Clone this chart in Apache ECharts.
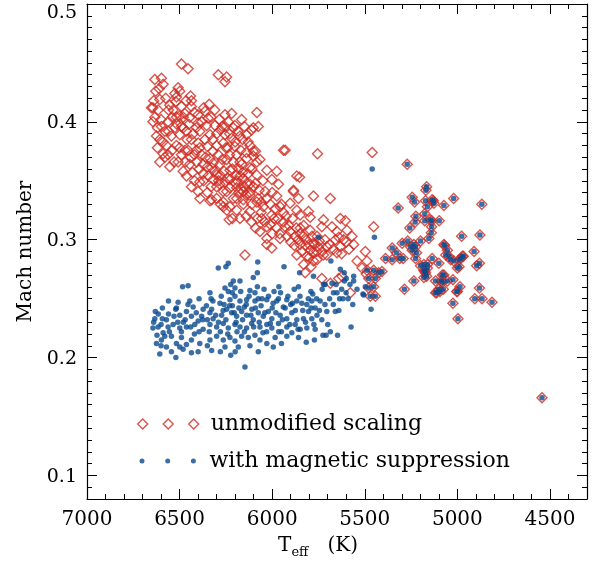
<!DOCTYPE html>
<html>
<head>
<meta charset="utf-8">
<script src="https://cdn.jsdelivr.net/npm/echarts@6/dist/echarts.min.js"></script>
<style>
  html, body { margin: 0; padding: 0; background: #fff; }
  #chart { width: 600px; height: 563px; }
</style>
</head>
<body>
<div id="chart"></div>
<script>
// Axis tick labels
const xTickLabels = [7000, 6500, 6000, 5500, 5000, 4500];
const yTickLabels = [0.1, 0.2, 0.3, 0.4, 0.5];

// Hot stars, Mach number with the unmodified scaling: [Teff (K), Mach]
const unmodifiedHot = [
  [6490,0.449],[6454,0.445],[6291,0.440],[6246,0.438],[6255,0.434],[6634,0.436],[6598,0.437],[6589,0.432],
  [6629,0.426],[6508,0.429],[6526,0.424],[6499,0.426],[6517,0.421],[6521,0.417],[6441,0.422],[6436,0.418],
  [6607,0.419],[6644,0.412],[6616,0.410],[6634,0.404],[6553,0.414],[6490,0.413],[6436,0.413],[6472,0.407],
  [6340,0.415],[6363,0.409],[6346,0.403],[6400,0.406],[6445,0.404],[6517,0.404],[6562,0.400],[6083,0.408],
  [6102,0.395],[6255,0.406],[6219,0.407],[6165,0.402],[6237,0.400],[6255,0.396],[6201,0.397],[6309,0.397],
  [6354,0.397],[6400,0.399],[6598,0.396],[6580,0.392],[6625,0.388],[6607,0.385],[6526,0.395],[6490,0.396],
  [6463,0.392],[6499,0.389],[6544,0.388],[6427,0.390],[6391,0.392],[6336,0.389],[6300,0.390],[6363,0.385],
  [6436,0.385],[6255,0.389],[6219,0.386],[6174,0.388],[6138,0.389],[6264,0.382],[6201,0.379],[6120,0.380],
  [6102,0.375],[6571,0.380],[6517,0.380],[6589,0.373],[6607,0.366],[6562,0.372],[6553,0.362],[6508,0.366],
  [6490,0.372],[6454,0.376],[6445,0.364],[6481,0.358],[6463,0.354],[6391,0.378],[6381,0.372],[6408,0.366],
  [6336,0.369],[6327,0.361],[6373,0.364],[6346,0.354],[6291,0.372],[6282,0.364],[6246,0.368],[6228,0.359],
  [6282,0.355],[6255,0.349],[6192,0.372],[6165,0.364],[6138,0.369],[6120,0.361],[6083,0.366],[6192,0.355],
  [6156,0.352],[6120,0.347],[6083,0.355],[6436,0.345],[6400,0.341],[6391,0.349],[6336,0.333],[6300,0.345],
  [6264,0.341],[6228,0.344],[6264,0.332],[6228,0.328],[6192,0.335],[6156,0.330],[6120,0.338],[6083,0.332],
  [6156,0.341],[6652,0.412],[6644,0.400],[6580,0.370],[6075,0.396],[5939,0.376],[5867,0.354],
  [6111,0.393],[5755,0.373],[5460,0.374],[5930,0.376],[6102,0.371],[6174,0.366],[6066,0.368],[6029,0.359],
  [5975,0.358],[6002,0.351],[5966,0.347],[5852,0.353],[6319,0.365],[6373,0.356],[6319,0.351],[6282,0.347],
  [6228,0.351],[6174,0.354],[6138,0.348],[6192,0.344],[6246,0.341],[6327,0.334],[6264,0.328],[6210,0.335],
  [6156,0.334],[6120,0.340],[6075,0.335],[6038,0.341],[5975,0.337],[5885,0.341],[5858,0.335],[5777,0.337],
  [5686,0.335],[6232,0.317],[6174,0.318],[6111,0.315],[6056,0.318],[6002,0.321],[5939,0.323],[5867,0.325],
  [5849,0.321],[6192,0.325],[6120,0.324],[6048,0.328],[5957,0.328],[5903,0.331],[5804,0.324],[5795,0.319],
  [5723,0.317],[5632,0.318],[5605,0.316],[6029,0.311],[6066,0.307],[5975,0.310],[5930,0.311],[5903,0.307],
  [5849,0.310],[5876,0.303],[5831,0.303],[6029,0.301],[5957,0.301],[6002,0.293],[6029,0.296],[5795,0.308],
  [5758,0.303],[5732,0.311],[5677,0.311],[5650,0.307],[5596,0.308],[5569,0.303],[5614,0.300],[5659,0.300],
  [5705,0.294],[5750,0.294],[5795,0.291],[5849,0.296],[5867,0.287],[5813,0.286],[5758,0.283],[5632,0.294],
  [5560,0.296],[5650,0.289],[5705,0.287],[6147,0.287],[5452,0.311],[5497,0.290],[5542,0.282],[5488,0.282],
  [5578,0.255],[5822,0.272],[5732,0.267],[5686,0.263],[5623,0.269],[5885,0.342],[5777,0.297],[5723,0.287],
  [5777,0.282],[5515,0.276],[5492,0.271],[5641,0.267],
  [6230,0.372],[6210,0.366],[6180,0.360],[6160,0.357],[6240,0.352],[6200,0.348],[6170,0.343],[6140,0.338],
  [6100,0.345],[6110,0.330],[6060,0.323],[6080,0.318],[6040,0.315],[6010,0.313],[5990,0.318],[5960,0.305],
  [5920,0.303],[5900,0.298],[5880,0.295],[5860,0.300],[5840,0.290],[5820,0.295],[5800,0.285],[5780,0.289],
  [5830,0.279],[5790,0.277],[5760,0.290],[6300,0.380],[6280,0.393],[6320,0.385],[6350,0.379],[6400,0.382],
  [6420,0.372],[6460,0.385],[6480,0.395],[6500,0.405],[6540,0.404],[6560,0.410],[6600,0.402],[6620,0.395],
  [6470,0.366],[6430,0.357],[6370,0.350],[6330,0.345],[6300,0.355],[6260,0.358],[6240,0.378],[6200,0.383],
  [6170,0.376],[6150,0.396],[6130,0.383],[6090,0.375],
  [6640,0.418],[6610,0.428],[6575,0.420],[6560,0.392],[6535,0.410],[6515,0.398],[6480,0.404],[6465,0.418],
  [6450,0.398],[6420,0.408],[6410,0.395],[6380,0.400],[6370,0.412],[6330,0.404],[6310,0.410],[6285,0.402],
  [6270,0.396],[6620,0.378],[6590,0.383],[6540,0.376],[6530,0.366],[6500,0.378],[6470,0.376],[6440,0.370],
  [6410,0.376],[6395,0.360],[6360,0.370],[6350,0.362],[6320,0.375],[6310,0.358],[6290,0.350],[6270,0.368],
  [6250,0.378],[6230,0.390],[6210,0.395],[6185,0.392],[6160,0.385],[6140,0.374],[6215,0.360],[6190,0.350],
  [6180,0.340],[6150,0.345],[6130,0.356],[6110,0.360],[6090,0.348],[6070,0.342],[6060,0.332],[6050,0.350],
  [6030,0.335],[6010,0.330],[6000,0.340],[5985,0.326],[5970,0.318],[5950,0.330],[5940,0.315],[5925,0.320],
  [5910,0.312],[5890,0.318],[5870,0.310],[5850,0.305],[5830,0.312],[5815,0.300],[5800,0.296],[5785,0.303],
  [5770,0.296],[5745,0.299],[5730,0.290],[5715,0.300],[5690,0.296],[5670,0.292],[5640,0.302],[5625,0.288],
  [5600,0.298],[5585,0.292],[6245,0.325],[6280,0.330],[6300,0.335],[6350,0.340],[6420,0.350],[6390,0.335],
  [6215,0.318],[6140,0.320],[6090,0.310],[6000,0.305]
];

// Hot stars, Mach number with magnetic suppression: [Teff (K), Mach]
const suppressedHot = [
  [5750,0.302],[5683,0.282],[5936,0.277],[6078,0.281],[6237,0.280],[6250,0.277],[6291,0.276],[6080,0.272],
  [6102,0.268],[6454,0.261],[6484,0.260],[6210,0.265],[6224,0.262],[6174,0.265],[5852,0.272],[5632,0.275],
  [5611,0.272],[5560,0.269],
  [6336,0.255],[6255,0.259],[6237,0.256],[6201,0.259],[6120,0.257],[6093,0.255],[6044,0.258],[5990,0.256],
  [5964,0.260],[5881,0.258],[5858,0.260],[5791,0.256],[5781,0.254],[5714,0.262],[5669,0.255],[5636,0.250],
  [5618,0.250],[5542,0.258],[5510,0.254],[5574,0.226],
  [6508,0.247],[6445,0.248],[6517,0.242],[6427,0.243],[6373,0.241],[6327,0.241],[6282,0.246],[6228,0.249],
  [6201,0.252],[6174,0.248],[6138,0.249],[6093,0.248],[6075,0.250],[6029,0.249],[5966,0.250],[5921,0.249],
  [5975,0.248],[5867,0.248],[5840,0.246],[5813,0.245],[5786,0.248],[5741,0.248],[5705,0.239],[5659,0.239],
  [5768,0.242],
  [6631,0.239],[6593,0.242],[6593,0.233],[6634,0.233],[6571,0.232],[6521,0.241],[6499,0.236],[6463,0.239],
  [6436,0.235],[6381,0.235],[6400,0.231],[6336,0.238],[6319,0.233],[6273,0.236],[6246,0.241],[6219,0.238],
  [6192,0.235],[6165,0.239],[6138,0.236],[6102,0.232],[6075,0.238],[6048,0.235],[6021,0.239],[6002,0.233],
  [5957,0.236],[5921,0.233],[5894,0.238],[5867,0.232],[5831,0.233],[5804,0.239],[5786,0.233],[5758,0.236],
  [5732,0.232],
  [6644,0.225],[6616,0.226],[6562,0.226],[6535,0.228],[6499,0.225],[6463,0.226],[6418,0.228],[6373,0.224],
  [6336,0.228],[6300,0.226],[6264,0.229],[6237,0.225],[6201,0.228],[6174,0.226],[6138,0.225],[6111,0.229],
  [6066,0.226],[6029,0.228],[6002,0.225],[5966,0.229],[5921,0.226],[5876,0.228],[5849,0.224],[5813,0.225],
  [5768,0.224],[5726,0.219],[5709,0.219],[5686,0.222],[5647,0.219],
  [6622,0.219],[6589,0.221],[6598,0.215],[6625,0.212],[6544,0.218],[6517,0.212],[6490,0.217],[6436,0.215],
  [6463,0.211],[6391,0.212],[6336,0.215],[6300,0.218],[6264,0.215],[6228,0.217],[6201,0.214],[6165,0.218],
  [6129,0.217],[6093,0.219],[6066,0.215],[6029,0.212],[5994,0.209],[5984,0.217],[5921,0.218],[5894,0.221],
  [5858,0.217],[5816,0.213],[5772,0.215],
  [6607,0.203],[6571,0.209],[6544,0.205],[6499,0.209],[6436,0.204],[6400,0.205],[6327,0.206],[6255,0.209],
  [6224,0.202],[6183,0.209],[6147,0.192],[6481,0.207],
  [5460,0.360],[5448,0.302],[5777,0.269],[5723,0.262],[5677,0.263],[5650,0.255],[5601,0.255],[5497,0.260],
  [5506,0.253],[5600,0.267],[5560,0.265],[5466,0.241],
  [6260,0.245],[6215,0.244],[6150,0.243],[6110,0.241],[6060,0.244],[6000,0.242],[5940,0.243],[5900,0.245],
  [6350,0.232],[6280,0.222],[6190,0.222],[6050,0.221],[5950,0.222],[6420,0.220],[6560,0.237],[6480,0.230],
  [6640,0.230],[6615,0.237],[6600,0.228],[6580,0.218],[6555,0.222],[6530,0.235],[6510,0.230],[6490,0.222],
  [6470,0.232],[6455,0.245],[6440,0.226],[6410,0.238],[6395,0.222],[6375,0.232],[6355,0.244],[6340,0.222],
  [6320,0.248],[6305,0.236],[6290,0.230],[6275,0.252],[6265,0.240],[6250,0.232],[6240,0.220],[6230,0.244],
  [6215,0.255],[6205,0.238],[6195,0.230],[6180,0.242],[6170,0.256],[6160,0.232],[6150,0.222],[6140,0.245],
  [6125,0.252],[6115,0.236],[6100,0.226],[6090,0.242],[6080,0.260],[6070,0.230],[6055,0.250],[6040,0.238],
  [6030,0.222],[6020,0.252],[6010,0.229],[5995,0.246],[5980,0.238],[5965,0.222],[5955,0.255],[5945,0.232],
  [5930,0.242],[5915,0.252],[5905,0.228],[5890,0.246],[5875,0.240],[5860,0.224],[5850,0.252],[5835,0.240],
  [5820,0.230],[5805,0.250],[5790,0.242],[5775,0.228],[5760,0.250],[5745,0.240],[5730,0.258],[5715,0.245],
  [5700,0.228],[5690,0.250],[5670,0.245],[5655,0.262],[5640,0.240],[5625,0.258],[5610,0.265],[5590,0.250],
  [5580,0.262],[5565,0.245],[6330,0.250],[6395,0.250],[6560,0.248],[6600,0.210],[6520,0.200],[6350,0.210],
  [6280,0.205],[6120,0.210],[6200,0.205],[5950,0.212],[6075,0.205]
];

// Cool stars: both scalings give the same Mach number: [Teff (K), Mach]
const coolStars = [
  [5271,0.364],[5166,0.345],[5170,0.342],[5244,0.336],[5231,0.332],[5172,0.333],[5130,0.333],[5162,0.328],
  [5136,0.334],[5127,0.331],[5073,0.329],[5020,0.335],[4868,0.330],[5320,0.327],
  [5224,0.320],[5176,0.322],[5176,0.316],[5139,0.316],[5098,0.316],[5145,0.317],[5228,0.315],[5257,0.310],
  [5139,0.311],[5141,0.306],[5154,0.301],[4977,0.303],[4878,0.304],
  [5268,0.299],[5199,0.299],[5226,0.294],[5069,0.295],[5352,0.293],[5298,0.297],[5235,0.296],[5253,0.294],
  [5244,0.291],[5329,0.289],[5311,0.284],[5293,0.284],[5226,0.284],[5220,0.289],[5388,0.284],[5352,0.283],
  [5073,0.296],[5054,0.291],[5063,0.287],[5046,0.286],[5019,0.282],[4991,0.283],[4973,0.286],[5036,0.283],
  [4982,0.284],[4968,0.286],[5000,0.276],[4991,0.277],[5136,0.284],[5100,0.280],
  [5181,0.279],[5162,0.279],[5199,0.278],[5181,0.274],[5162,0.276],[5172,0.272],[5177,0.273],[5166,0.269],
  [5181,0.268],[4910,0.290],[4896,0.278],[4881,0.280],
  [5073,0.270],[5081,0.270],[5118,0.265],[5087,0.265],[5054,0.265],[5024,0.266],[5081,0.264],
  [5076,0.258],[5100,0.258],[5094,0.256],[5112,0.255],[5118,0.255],[5000,0.256],[4986,0.260],[4881,0.259],
  [5004,0.256],[4906,0.250],[4867,0.250],[4813,0.247],[5024,0.246],[4997,0.233],
  [5235,0.265],[5286,0.258],
  [5488,0.274],[5452,0.274],[5425,0.272],[5407,0.273],[5443,0.267],[5479,0.267],[5452,0.260],[5479,0.259],
  [5443,0.252],[5470,0.252],
  [4543,0.166]
];

const RED = '#d02a20';
const BLUE = '#0a4a8e';
const FONT = 'DejaVu Serif';
const X_MIN = 4300, X_MAX = 7000;
const Y_MIN = 0.08, Y_MAX = 0.5;

// minor ticks: every 100 K and every 0.01 in Mach, skipping the major ones
const xMinor = [];
for (let t = X_MIN; t <= X_MAX; t += 100) if (t % 500 !== 0) xMinor.push(t);
const yMinor = [];
for (let i = Math.round(Y_MIN * 100); i <= Math.round(Y_MAX * 100); i++) if (i % 10 !== 0) yMinor.push(i / 100);

function tick(values, len) {
  return { show: true, inside: true, length: len, customValues: values,
           lineStyle: { color: '#000', width: 1 } };
}
const frameLine = { show: true, onZero: false, lineStyle: { color: '#000', width: 1.2 } };
const noLine = { show: false, onZero: false };

function xAxisOf(position, ticks, len, withLine, labels) {
  const ax = {
    type: 'value', gridIndex: 0, position, min: X_MIN, max: X_MAX, inverse: true,
    axisLine: withLine ? frameLine : noLine,
    axisTick: tick(ticks, len),
    splitLine: { show: false },
    axisLabel: { show: false }
  };
  if (labels) {
    ax.axisLabel = { show: true, customValues: labels, margin: 11, color: '#000',
                     fontFamily: FONT, fontSize: 20, formatter: v => String(v) };
  }
  return ax;
}
function yAxisOf(position, ticks, len, withLine, labels) {
  const ax = {
    type: 'value', gridIndex: 0, position, min: Y_MIN, max: Y_MAX,
    axisLine: withLine ? frameLine : noLine,
    axisTick: tick(ticks, len),
    splitLine: { show: false },
    axisLabel: { show: false }
  };
  if (labels) {
    ax.axisLabel = {
      show: true, customValues: labels, margin: 10, color: '#000',
      formatter: v => (v >= 0.5 ? '{top|' : '{n|') + v.toFixed(1) + '}',
      rich: {
        n: { fontFamily: FONT, fontSize: 19, color: '#000', padding: [3, 0, 0, 0] },
        top: { fontFamily: FONT, fontSize: 19, color: '#000', padding: [18, 0, 0, 0] }
      }
    };
  }
  return ax;
}

const xMain = xAxisOf('bottom', xTickLabels, 10, true, xTickLabels);
xMain.name = '{t|T}{s|eff}{t|   (K)}';
xMain.nameLocation = 'middle';
xMain.nameGap = 34;
xMain.nameTextStyle = {
  padding: [0, 38, 0, 0],
  rich: {
    t: { fontFamily: FONT, fontSize: 20, color: '#000', lineHeight: 26 },
    s: { fontFamily: FONT, fontSize: 13, color: '#000', lineHeight: 13, verticalAlign: 'bottom' }
  }
};

const yMain = yAxisOf('left', yTickLabels, 10, true, yTickLabels);
yMain.name = 'Mach number';
yMain.nameLocation = 'middle';
yMain.nameGap = 46;
yMain.nameTextStyle = { fontFamily: FONT, fontSize: 20, color: '#000' };

// legend icons: a row of three markers, as in the series
const DIAMONDS = 'path://M0,5L5,0L10,5L5,10ZM25.5,5L30.5,0L35.5,5L30.5,10ZM51,5L56,0L61,5L56,10Z';
const DOTS = 'path://M0,2.5A2.5,2.5,0,1,1,5,2.5A2.5,2.5,0,1,1,0,2.5Z' +
             'M25.7,2.5A2.5,2.5,0,1,1,30.7,2.5A2.5,2.5,0,1,1,25.7,2.5Z' +
             'M51.4,2.5A2.5,2.5,0,1,1,56.4,2.5A2.5,2.5,0,1,1,51.4,2.5Z';
const legendText = { fontFamily: FONT, fontSize: 22, color: '#000' };

const chart = echarts.init(document.getElementById('chart'), null, { renderer: 'canvas' });
chart.setOption({
  animation: false,
  backgroundColor: '#fff',
  grid: { left: 87, right: 13, top: 4, bottom: 64, outerBoundsMode: 'none' },
  xAxis: [
    xMain,
    xAxisOf('bottom', xMinor, 5, false),
    xAxisOf('top', xTickLabels, 10, true),
    xAxisOf('top', xMinor, 5, false)
  ],
  yAxis: [
    yMain,
    yAxisOf('left', yMinor, 5, false),
    yAxisOf('right', yTickLabels, 10, true),
    yAxisOf('right', yMinor, 5, false)
  ],
  legend: [
    {
      data: [{ name: 'unmodified scaling', icon: DIAMONDS,
               itemStyle: { color: 'rgba(0,0,0,0)', borderColor: RED, borderWidth: 1.4 } }],
      left: 132, top: 408, itemWidth: 61, itemHeight: 10, selectedMode: false,
      textStyle: Object.assign({ padding: [0, 0, 0, 7] }, legendText)
    },
    {
      data: [{ name: 'with magnetic suppression', icon: DOTS,
               itemStyle: { color: BLUE, borderWidth: 0 } }],
      left: 134.5, top: 445, itemWidth: 56.4, itemHeight: 5, selectedMode: false,
      textStyle: Object.assign({ padding: [0, 0, 0, 8.6] }, legendText)
    }
  ],
  series: [
    {
      name: 'unmodified scaling', type: 'scatter', xAxisIndex: 0, yAxisIndex: 0,
      symbol: 'diamond', symbolSize: 10, silent: true,
      itemStyle: { color: 'rgba(0,0,0,0)', borderColor: RED, borderWidth: 1.4 },
      data: unmodifiedHot.concat(coolStars)
    },
    {
      name: 'with magnetic suppression', type: 'scatter', xAxisIndex: 0, yAxisIndex: 0,
      symbol: 'circle', symbolSize: 5.5, silent: true,
      itemStyle: { color: BLUE },
      data: suppressedHot.concat(coolStars)
    }
  ]
});
</script>
</body>
</html>
